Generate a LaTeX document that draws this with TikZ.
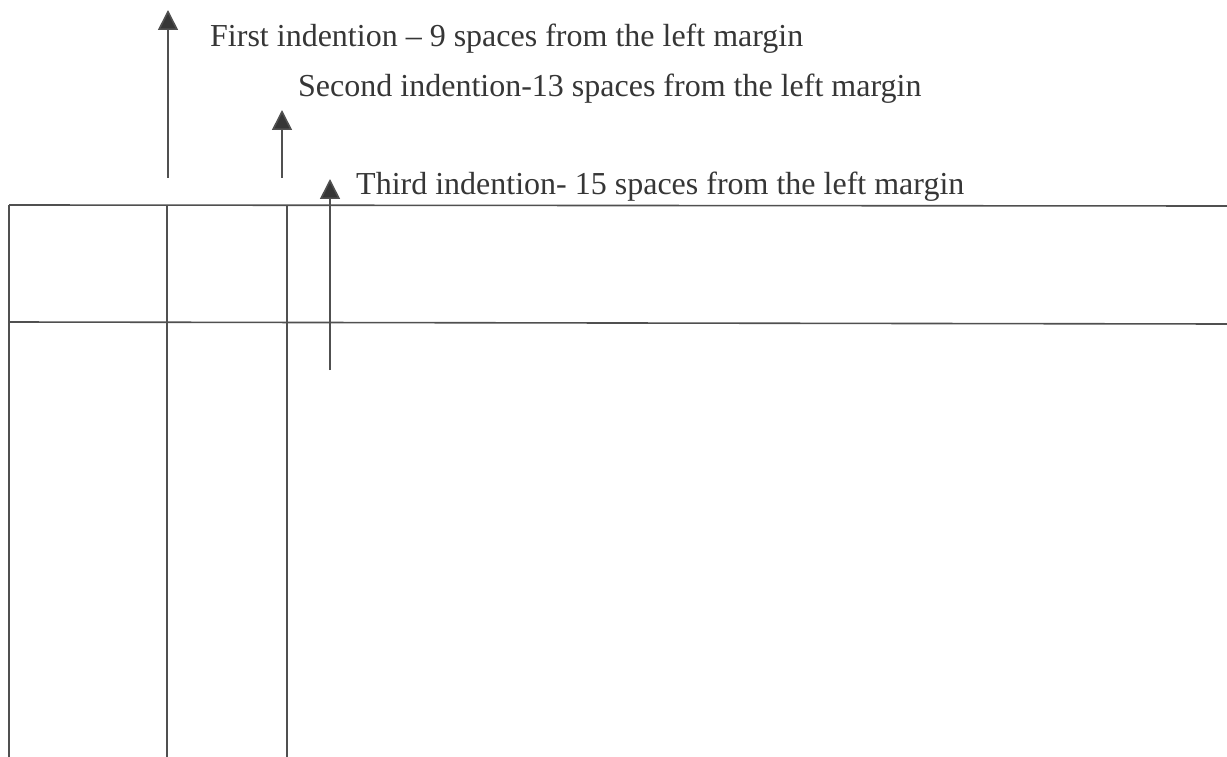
\documentclass[tikz,border=0pt]{standalone}
\usepackage{fontspec}
\setmainfont{Liberation Serif}
\usetikzlibrary{arrows.meta}
\definecolor{ink}{HTML}{505050}
\definecolor{txt}{HTML}{363636}
\tikzset{
  rule/.style={draw=ink, line width=1.6pt},
  uparrow/.style={draw=ink, line width=1.6pt, -{Triangle[width=20pt,length=20pt,fill=txt]}},
  label/.style={anchor=base west, inner sep=0pt, text=txt, font=\fontsize{32}{36}\selectfont}
}
\begin{document}
\begin{tikzpicture}[x=1pt,y=-1pt]
\useasboundingbox[fill=white] (0,0) rectangle (1227,757);
% grid lines
\draw[rule] (9,205) -- (1227,206);
\draw[rule] (9,322) -- (1227,324);
\draw[rule] (9,205) -- (9,757);
\draw[rule] (167,205) -- (167,757);
\draw[rule] (287,205) -- (287,757);
% arrows
\coordinate (a1s) at (168,178); \coordinate (a1e) at (168,10);
\coordinate (a2s) at (282,178); \coordinate (a2e) at (282,110);
\coordinate (a3s) at (330,370); \coordinate (a3e) at (330,179);
\draw[uparrow] (a1s) -- (a1e);
\draw[uparrow] (a2s) -- (a2e);
\draw[uparrow] (a3s) -- (a3e);
% labels
\node[label] (t1) at (210,47) {First indention – 9 spaces from the left margin};
\node[label] (t2) at (298,97) {Second indention-13 spaces from the left margin};
\node[label] (t3) at (356,195) {Third indention- 15 spaces from the left margin};
\end{tikzpicture}
\end{document}
